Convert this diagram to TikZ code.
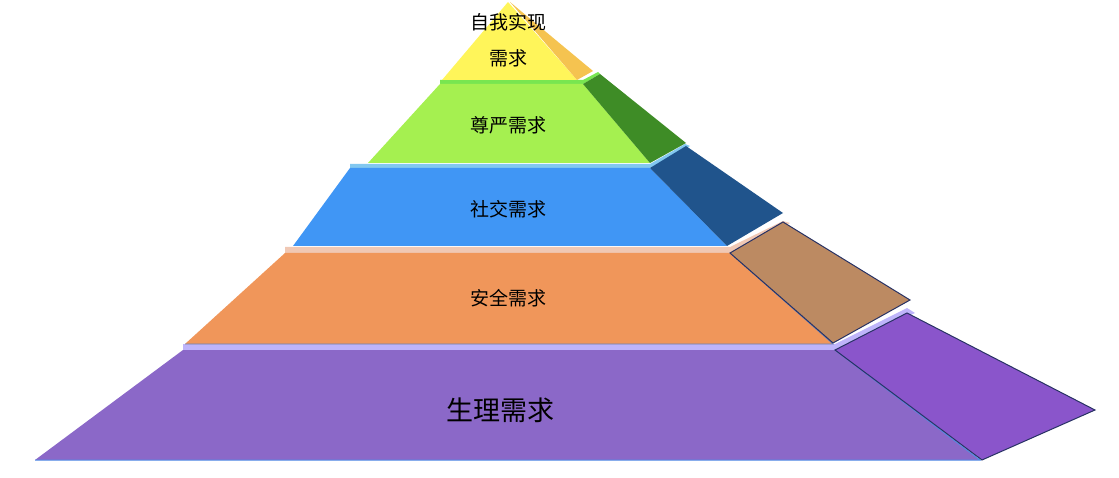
\documentclass[tikz,border=0pt]{standalone}
\usepackage{fontspec}
\newfontfamily\cjk{Noto Sans CJK SC}
\definecolor{lav}{RGB}{190,180,250}
\definecolor{purp}{RGB}{139,104,200}
\definecolor{purpside}{RGB}{138,85,203}
\definecolor{edgeblue}{RGB}{80,140,230}
\definecolor{darkedge}{RGB}{40,50,100}
\definecolor{peach}{RGB}{240,200,180}
\definecolor{orng}{RGB}{240,150,90}
\definecolor{brwn}{RGB}{188,138,98}
\definecolor{edge2}{RGB}{100,130,190}
\definecolor{lblue}{RGB}{130,200,240}
\definecolor{blu}{RGB}{64,150,245}
\definecolor{dblu}{RGB}{32,84,140}
\definecolor{lgrn}{RGB}{120,230,80}
\definecolor{grn}{RGB}{165,240,80}
\definecolor{dgrn}{RGB}{62,140,38}
\definecolor{yel}{RGB}{255,245,90}
\definecolor{yside}{RGB}{245,195,80}
\begin{document}
\begin{tikzpicture}[x=1pt,y=-1pt,
  lbl/.style={font=\cjk\fontsize{19}{24}\selectfont,text=black,align=center},
  big/.style={font=\cjk\fontsize{27}{32}\selectfont,text=black}]
\useasboundingbox (0,0) rectangle (1119,478);
% level 5
\fill[lav] (183,344) -- (835,344) -- (907,308) -- (915,313) -- (835,350) -- (183,350) -- cycle;
\fill[purp] (183,350) -- (835,350) -- (980,460) -- (35,460) -- cycle;
\draw[edgeblue,line width=1pt] (835,350) -- (980,460) -- (35,460);
\filldraw[fill=purpside,draw=darkedge,line width=1pt] (835,350) -- (907,313) -- (1095,410) -- (982,460) -- cycle;
\node[big] (l5) at (500,410) {生理需求};
% level 4
\fill[peach] (285,247) -- (730,247) -- (783,221) -- (790,223) -- (730,253) -- (285,253) -- cycle;
\fill[orng] (285,253) -- (730,253) -- (833,344) -- (185,344) -- cycle;
\draw[edge2,line width=0.8pt] (730,253) -- (833,344) -- (185,344);
\filldraw[fill=brwn,draw=darkedge,line width=1pt] (730,253) -- (783,222) -- (910,300) -- (833,343) -- cycle;
\node[lbl] (l4) at (508,298) {安全需求};
% level 3
\fill[lblue] (350,164) -- (650,164) -- (685,144) -- (690,146) -- (650,168) -- (350,168) -- cycle;
\fill[blu] (350,168) -- (650,168) -- (727,246) -- (293,246) -- cycle;
\fill[dblu] (650,168) -- (686,146) -- (783,213) -- (727,246) -- cycle;
\node[lbl] (l3) at (508,209) {社交需求};
% level 2
\fill[lgrn] (440,80) -- (583,80) -- (598,72) -- (600,74) -- (583,84) -- (440,84) -- cycle;
\fill[grn] (440,84) -- (583,84) -- (650,163) -- (368,163) -- cycle;
\fill[dgrn] (583,84) -- (600,74) -- (686,143) -- (650,163) -- cycle;
\node[lbl] (l2) at (508,125) {尊严需求};
% level 1
\fill[yel] (508,2) -- (577,80) -- (442,80) -- cycle;
\fill[yside] (510,2) -- (593,71) -- (577,80) -- cycle;
\node[lbl,font=\cjk\fontsize{19}{36}\selectfont] (l1) at (508,40) {自我实现\\需求};
\end{tikzpicture}
\end{document}
